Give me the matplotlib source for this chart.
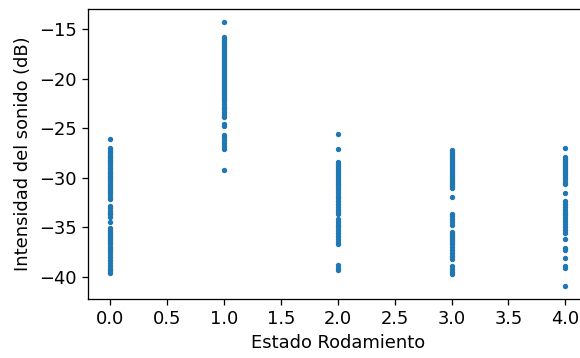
import numpy as np
import matplotlib.pyplot as plt

# intensidad (dB) por estado de rodamiento
estado_0 = [-26.1, -27.0, -27.2, -27.4, -27.5, -27.7, -27.9, -28.0, -28.2, -28.3,
            -28.5, -28.6, -28.8, -29.0, -29.1, -29.3, -29.5, -29.6, -29.8, -29.9,
            -30.1, -30.2, -30.4, -30.6, -30.8, -31.0, -31.2, -31.4, -31.6, -31.9,
            -32.1, -32.8, -33.0, -33.3, -33.5, -33.7, -34.0, -34.5, -35.1, -35.3,
            -35.5, -35.7, -35.9, -36.1, -36.3, -36.5, -36.7, -37.0, -37.2, -37.4,
            -37.7, -38.0, -38.3, -38.6, -38.9, -39.2, -39.4, -39.6]
estado_1 = [-14.3, -15.8, -16.0, -16.2, -16.4, -16.6, -16.8, -17.0, -17.2, -17.4,
            -17.6, -17.8, -18.0, -18.2, -18.4, -18.6, -18.8, -19.0, -19.2, -19.4,
            -19.6, -19.8, -20.0, -20.2, -20.4, -20.6, -20.8, -21.0, -21.2, -21.4,
            -21.6, -21.8, -22.0, -22.2, -22.5, -22.8, -23.0, -23.3, -23.6, -23.9,
            -24.6, -24.8, -25.7, -25.9, -26.2, -26.5, -26.8, -27.1, -29.2]
estado_2 = [-25.6, -27.1, -28.4, -28.6, -28.8, -29.0, -29.2, -29.4, -29.6, -29.8,
            -30.0, -30.2, -30.4, -30.6, -30.8, -31.0, -31.2, -31.5, -31.8, -32.0,
            -32.3, -32.6, -32.9, -33.2, -33.4, -33.7, -34.2, -34.5, -34.8, -35.0,
            -35.3, -35.6, -35.9, -36.2, -36.5, -36.7, -38.8, -39.1, -39.3]
estado_3 = [-27.2, -27.4, -27.6, -27.8, -28.0, -28.2, -28.4, -28.6, -28.8, -29.0,
            -29.2, -29.4, -29.6, -29.8, -30.0, -30.2, -30.4, -30.6, -30.8, -31.0,
            -31.9, -33.6, -33.9, -34.2, -34.5, -34.8, -35.5, -35.7, -35.9, -36.1,
            -36.3, -36.5, -36.7, -37.0, -37.3, -37.6, -37.9, -38.2, -38.9, -39.2,
            -39.5, -39.7]
estado_4 = [-27.0, -27.9, -28.1, -28.3, -28.5, -28.7, -28.9, -29.1, -29.3, -29.5,
            -29.7, -29.9, -30.1, -30.4, -30.6, -31.5, -32.3, -32.6, -32.9, -33.2,
            -33.5, -33.8, -34.1, -34.4, -34.7, -35.0, -35.3, -35.6, -36.2, -37.1,
            -37.3, -38.1, -38.9, -39.1, -40.9]

grupos = [estado_0, estado_1, estado_2, estado_3, estado_4]
x = np.concatenate([[i] * len(g) for i, g in enumerate(grupos)])
y = np.concatenate(grupos)

plt.rcParams["font.size"] = 11.2

dpi = 115
fig = plt.figure(figsize=(580 / dpi, 358 / dpi), dpi=dpi)
# el eje derecho queda cortado en la imagen original
ax = fig.add_axes([0.151, 0.165, 0.863, 0.809])
ax.scatter(x, y, s=5.5, color="C0")
ax.set_xlabel("Estado Rodamiento")
ax.set_ylabel("Intensidad del sonido (dB)")

fig.savefig("out.png", dpi=dpi)
